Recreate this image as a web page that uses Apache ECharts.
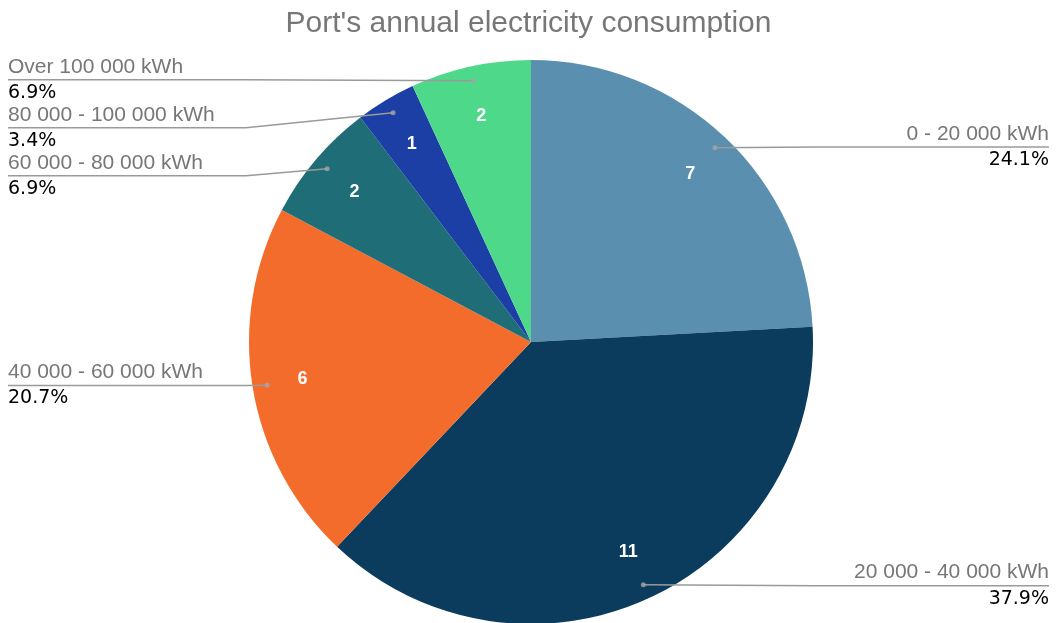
<!DOCTYPE html>
<html>
<head>
<meta charset="utf-8">
<title>Port's annual electricity consumption</title>
<script src="https://cdn.jsdelivr.net/npm/echarts@6/dist/echarts.min.js"></script>
<style>
  html, body { margin: 0; padding: 0; background: #ffffff; }
  #chart { width: 1057px; height: 623px; }
</style>
</head>
<body>
<div id="chart"></div>
<script>
// Consumption bands and number of port facilities in each
const categories = [
  '0 - 20 000 kWh',
  '20 000 - 40 000 kWh',
  '40 000 - 60 000 kWh',
  '60 000 - 80 000 kWh',
  '80 000 - 100 000 kWh',
  'Over 100 000 kWh'
];
const counts = [7, 11, 6, 2, 1, 2];
const sliceColors = ['#5b8fb0', '#0b3c5d', '#f46c2c', '#1e6d77', '#1b3fa4', '#4dd88a'];

const chartTitle = "Port's annual electricity consumption";

const R = 282;
const center = [531, 342];
const leaderStart = 0.9485; // where the leader lines begin, as a share of the radius
const elbowGap = 3;         // leader lines turn horizontal just outside the pie

const total = counts.reduce((a, b) => a + b, 0);
const data = categories.map((name, i) => ({ name, value: counts[i] }));
const clear = 'rgba(0,0,0,0)';

// small anchor dots at the start of each leader line, placed at each slice's middle angle
let running = 0;
const anchorDots = counts.map((v) => {
  const mid = running + v / 2;
  running += v;
  return [leaderStart, mid];
});

const chart = echarts.init(document.getElementById('chart'), null, { renderer: 'canvas' });

chart.setOption({
  animation: false,
  backgroundColor: '#ffffff',
  title: {
    text: chartTitle,
    left: 'center',
    top: 4,
    textStyle: {
      fontFamily: 'Liberation Sans, Arial, sans-serif',
      fontSize: 30,
      fontWeight: 'normal',
      color: '#777777'
    }
  },
  polar: { center: center, radius: R },
  angleAxis: {
    type: 'value', min: 0, max: total, startAngle: 90, clockwise: true, show: false
  },
  radiusAxis: { type: 'value', min: 0, max: 1, show: false },
  series: [
    {
      // coloured slices
      type: 'pie',
      center: center,
      radius: [0, R],
      startAngle: 90,
      clockwise: true,
      silent: true,
      z: 1,
      data: data.map((d, i) => ({ ...d, itemStyle: { color: sliceColors[i] } })),
      itemStyle: { borderWidth: 0 },
      label: { show: false },
      labelLine: { show: false }
    },
    {
      // counts written inside each slice
      type: 'pie',
      center: center,
      radius: [R * 0.62, R],
      startAngle: 90,
      clockwise: true,
      silent: true,
      z: 3,
      data: data,
      itemStyle: { color: clear, borderWidth: 0 },
      label: {
        show: true,
        position: 'inside',
        formatter: '{c}',
        color: '#ffffff',
        fontFamily: 'Liberation Sans, Arial, sans-serif',
        fontWeight: 'bold',
        fontSize: 18
      },
      labelLine: { show: false }
    },
    {
      // category name and share, pulled out to the chart edges
      type: 'pie',
      center: center,
      radius: [0, R * leaderStart],
      startAngle: 90,
      clockwise: true,
      silent: true,
      z: 4,
      data: data,
      itemStyle: { color: clear, borderWidth: 0 },
      label: {
        show: true,
        position: 'outside',
        alignTo: 'edge',
        edgeDistance: 8,
        distanceToLabelLine: 0,
        formatter: (p) => '{n|' + p.name + '}\n{p|' + (p.value / total * 100).toFixed(1) + '%}',
        rich: {
          n: {
            fontFamily: 'Liberation Sans, Arial, sans-serif',
            fontSize: 21,
            color: '#777777',
            lineHeight: 26
          },
          p: {
            fontFamily: 'DejaVu Sans, Verdana, sans-serif',
            fontSize: 19,
            color: '#000000',
            lineHeight: 26
          }
        }
      },
      labelLine: {
        show: true,
        length: 1,
        length2: 10,
        lineStyle: { color: '#9a9a9a', width: 1.5 }
      },
      // each leader line runs straight to just outside the pie,
      // then horizontally underneath its label out to the chart edge
      labelLayout: (p) => {
        const pts = p.labelLinePoints;
        if (!pts || pts.length < 3) return {};
        const r = p.labelRect;
        const onLeft = r.x + r.width / 2 < center[0];
        const lineY = pts[pts.length - 1][1];
        const elbowX = onLeft ? center[0] - R - elbowGap : center[0] + R + elbowGap;
        const startX = pts[0][0];
        const midX = onLeft ? Math.min(elbowX, startX) : Math.max(elbowX, startX);
        return {
          labelLinePoints: [
            pts[0].slice(),
            [midX, lineY],
            [onLeft ? r.x : r.x + r.width, lineY]
          ]
        };
      }
    },
    {
      type: 'scatter',
      coordinateSystem: 'polar',
      silent: true,
      symbol: 'circle',
      symbolSize: 5,
      itemStyle: { color: '#a5a5a5' },
      data: anchorDots,
      z: 5
    }
  ]
});
</script>
</body>
</html>
